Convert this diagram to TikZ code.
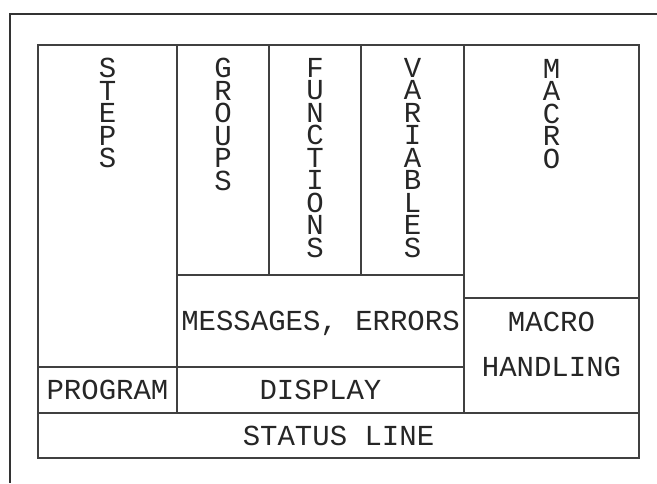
\documentclass[tikz,border=0pt]{standalone}
\usepackage{fontspec}
\newfontfamily\plotfont{Liberation Mono}
\begin{document}
\begin{tikzpicture}[x=1pt,y=-1pt,
  frame/.style={draw=black!80, line width=1.8pt},
  panel/.style={draw=black!75, line width=1.3pt, inner sep=0pt, outer sep=0pt,
    anchor=north west, text depth=0pt, text=black!85,
    font=\plotfont\fontsize{29}{45}\selectfont},
  vlabel/.style={inner sep=0pt, anchor=north, align=center, text=black!85,
    font=\plotfont\fontsize{29}{22.5}\selectfont},
  hlabel/.style={inner sep=0pt, align=center, text=black!85,
    font=\plotfont\fontsize{29}{45}\selectfont}]
\useasboundingbox (0,0) rectangle (657,483);

% open outer frame: top and left edges only
\coordinate (ftr) at (657,14);
\coordinate (ftl) at (10,14);
\coordinate (fbl) at (10,483);
\draw[frame] (ftr) -- (ftl) -- (fbl);

% screen panels
\node[panel, minimum width=139pt, minimum height=322pt] (steps)     at (38,45)  {};
\node[panel, minimum width=92pt,  minimum height=230pt] (groups)    at (177,45) {};
\node[panel, minimum width=92pt,  minimum height=230pt] (functions) at (269,45) {};
\node[panel, minimum width=103pt, minimum height=230pt] (variables) at (361,45) {};
\node[panel, minimum width=175pt, minimum height=253pt] (macro)     at (464,45) {};
\node[panel, minimum width=287pt, minimum height=92pt]  (messages)  at (177,275) {MESSAGES, ERRORS};
\node[panel, minimum width=175pt, minimum height=115pt] (handling)  at (464,298) {};
\node[panel, minimum width=139pt, minimum height=46pt]  (program)   at (38,367) {PROGRAM};
\node[panel, minimum width=287pt, minimum height=46pt]  (display)   at (177,367) {DISPLAY};
\node[panel, minimum width=601pt, minimum height=45pt]  (status)    at (38,413) {STATUS LINE};

% stacked vertical titles
\node[vlabel] (stepslbl)     at ([yshift=-13pt]steps.north)     {S\\T\\E\\P\\S};
\node[vlabel] (groupslbl)    at ([yshift=-13pt]groups.north)    {G\\R\\O\\U\\P\\S};
\node[vlabel] (functionslbl) at ([yshift=-13pt]functions.north) {F\\U\\N\\C\\T\\I\\O\\N\\S};
\node[vlabel] (variableslbl) at ([yshift=-13pt]variables.north) {V\\A\\R\\I\\A\\B\\L\\E\\S};
\node[vlabel] (macrolbl)     at ([yshift=-14pt]macro.north)     {M\\A\\C\\R\\O};

% two-line title of the macro handling panel
\node[hlabel] (handlinglbl) at ([yshift=11pt]handling.center) {MACRO\\HANDLING};
\end{tikzpicture}
\end{document}
